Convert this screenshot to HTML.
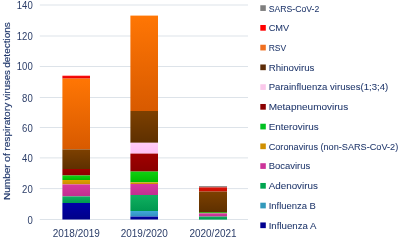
<!DOCTYPE html>
<html lang="en"><head><meta charset="utf-8"><title>Respiratory virus detections</title>
<style>html,body{margin:0;padding:0;background:#fff}body{width:400px;height:242px;overflow:hidden}svg{display:block;filter:blur(.35px)}text{font-family:"Liberation Sans", sans-serif;fill:#21386c}.lg{stroke:#21386c;stroke-width:.06px}.ti{stroke:#21386c;stroke-width:.15px}.ax{fill:#2b3d68}</style></head><body>
<svg width="400" height="242" viewBox="0 0 400 242">
<defs>
<linearGradient id="g-sars" x1="0" y1="0" x2="0" y2="1"><stop offset="0" stop-color="#807470"/><stop offset="1" stop-color="#807470"/></linearGradient>
<linearGradient id="g-cmv" x1="0" y1="0" x2="0" y2="1"><stop offset="0" stop-color="#ff1010"/><stop offset="1" stop-color="#e00000"/></linearGradient>
<linearGradient id="g-rsv" x1="0" y1="0" x2="0" y2="1"><stop offset="0" stop-color="#ff7604"/><stop offset="1" stop-color="#d85a00"/></linearGradient>
<linearGradient id="g-rhino" x1="0" y1="0" x2="0" y2="1"><stop offset="0" stop-color="#7d4000"/><stop offset="1" stop-color="#5e3000"/></linearGradient>
<linearGradient id="g-para" x1="0" y1="0" x2="0" y2="1"><stop offset="0" stop-color="#ffccf8"/><stop offset="1" stop-color="#ffc0f2"/></linearGradient>
<linearGradient id="g-meta" x1="0" y1="0" x2="0" y2="1"><stop offset="0" stop-color="#a00000"/><stop offset="1" stop-color="#8a0000"/></linearGradient>
<linearGradient id="g-entero" x1="0" y1="0" x2="0" y2="1"><stop offset="0" stop-color="#10d010"/><stop offset="1" stop-color="#00b800"/></linearGradient>
<linearGradient id="g-corona" x1="0" y1="0" x2="0" y2="1"><stop offset="0" stop-color="#e0a000"/><stop offset="1" stop-color="#c88c00"/></linearGradient>
<linearGradient id="g-boca" x1="0" y1="0" x2="0" y2="1"><stop offset="0" stop-color="#d838a0"/><stop offset="1" stop-color="#c03090"/></linearGradient>
<linearGradient id="g-adeno" x1="0" y1="0" x2="0" y2="1"><stop offset="0" stop-color="#10b060"/><stop offset="1" stop-color="#009850"/></linearGradient>
<linearGradient id="g-flub" x1="0" y1="0" x2="0" y2="1"><stop offset="0" stop-color="#40a8d8"/><stop offset="1" stop-color="#3090c0"/></linearGradient>
<linearGradient id="g-flua" x1="0" y1="0" x2="0" y2="1"><stop offset="0" stop-color="#0000a8"/><stop offset="1" stop-color="#000088"/></linearGradient>
<linearGradient id="g-cmv3" x1="0" y1="0" x2="0" y2="1"><stop offset="0" stop-color="#e01008"/><stop offset="1" stop-color="#c41000"/></linearGradient>
<linearGradient id="g-entero3" x1="0" y1="0" x2="0" y2="1"><stop offset="0" stop-color="#48a820"/><stop offset="1" stop-color="#48a820"/></linearGradient>
</defs>
<rect width="400" height="242" fill="#fff"/>
<line x1="39.8" x2="248" y1="219.50" y2="219.50" stroke="#dde3e9" stroke-width="1"/>
<line x1="39.8" x2="248" y1="188.60" y2="188.60" stroke="#dde3e9" stroke-width="1"/>
<line x1="39.8" x2="248" y1="157.90" y2="157.90" stroke="#dde3e9" stroke-width="1"/>
<line x1="39.8" x2="248" y1="127.50" y2="127.50" stroke="#dde3e9" stroke-width="1"/>
<line x1="39.8" x2="248" y1="97.50" y2="97.50" stroke="#dde3e9" stroke-width="1"/>
<line x1="39.8" x2="248" y1="66.50" y2="66.50" stroke="#dde3e9" stroke-width="1"/>
<line x1="39.8" x2="248" y1="36.00" y2="36.00" stroke="#dde3e9" stroke-width="1"/>
<line x1="39.8" x2="248" y1="5.00" y2="5.00" stroke="#dde3e9" stroke-width="1"/>
<text class="ax" x="32.7" y="224" text-anchor="end" font-size="10" textLength="5.3" lengthAdjust="spacingAndGlyphs">0</text>
<text class="ax" x="32.7" y="193" text-anchor="end" font-size="10" textLength="10.6" lengthAdjust="spacingAndGlyphs">20</text>
<text class="ax" x="32.7" y="162" text-anchor="end" font-size="10" textLength="10.6" lengthAdjust="spacingAndGlyphs">40</text>
<text class="ax" x="32.7" y="132" text-anchor="end" font-size="10" textLength="10.6" lengthAdjust="spacingAndGlyphs">60</text>
<text class="ax" x="32.7" y="102" text-anchor="end" font-size="10" textLength="10.6" lengthAdjust="spacingAndGlyphs">80</text>
<text class="ax" x="32.7" y="70" text-anchor="end" font-size="10" textLength="15.9" lengthAdjust="spacingAndGlyphs">100</text>
<text class="ax" x="32.7" y="40" text-anchor="end" font-size="10" textLength="15.9" lengthAdjust="spacingAndGlyphs">120</text>
<text class="ax" x="32.7" y="9" text-anchor="end" font-size="10" textLength="15.9" lengthAdjust="spacingAndGlyphs">140</text>
<rect x="62.40" y="75.70" width="27.60" height="2.90" fill="url(#g-cmv)"/>
<rect x="62.40" y="78.60" width="27.60" height="70.80" fill="url(#g-rsv)"/>
<rect x="62.40" y="149.40" width="27.60" height="19.60" fill="url(#g-rhino)"/>
<rect x="62.40" y="169.00" width="27.60" height="6.50" fill="url(#g-meta)"/>
<rect x="62.40" y="175.50" width="27.60" height="4.50" fill="url(#g-entero)"/>
<rect x="62.40" y="180.00" width="27.60" height="4.40" fill="url(#g-corona)"/>
<rect x="62.40" y="184.40" width="27.60" height="12.00" fill="url(#g-boca)"/>
<rect x="62.40" y="196.40" width="27.60" height="6.60" fill="url(#g-adeno)"/>
<rect x="62.40" y="203.00" width="27.60" height="16.50" fill="url(#g-flua)"/>
<rect x="130.40" y="15.60" width="27.60" height="95.40" fill="url(#g-rsv)"/>
<rect x="130.40" y="111.00" width="27.60" height="31.80" fill="url(#g-rhino)"/>
<rect x="130.40" y="142.80" width="27.60" height="10.80" fill="url(#g-para)"/>
<rect x="130.40" y="153.60" width="27.60" height="18.00" fill="url(#g-meta)"/>
<rect x="130.40" y="171.60" width="27.60" height="10.80" fill="url(#g-entero)"/>
<rect x="130.40" y="182.40" width="27.60" height="1.60" fill="url(#g-corona)"/>
<rect x="130.40" y="184.00" width="27.60" height="11.00" fill="url(#g-boca)"/>
<rect x="130.40" y="195.00" width="27.60" height="16.00" fill="url(#g-adeno)"/>
<rect x="130.40" y="211.00" width="27.60" height="5.60" fill="url(#g-flub)"/>
<rect x="130.40" y="216.60" width="27.60" height="2.90" fill="url(#g-flua)"/>
<rect x="199.00" y="186.20" width="28.00" height="1.20" fill="url(#g-sars)"/>
<rect x="199.00" y="187.40" width="28.00" height="4.20" fill="url(#g-cmv3)"/>
<rect x="199.00" y="191.60" width="28.00" height="20.40" fill="url(#g-rhino)"/>
<rect x="199.00" y="212.00" width="28.00" height="1.40" fill="url(#g-entero3)"/>
<rect x="199.00" y="213.40" width="28.00" height="3.20" fill="url(#g-boca)"/>
<rect x="199.00" y="216.60" width="28.00" height="3.00" fill="url(#g-adeno)"/>
<text class="ax" x="76.3" y="237.3" text-anchor="middle" font-size="10.1" textLength="47.2" lengthAdjust="spacingAndGlyphs">2018/2019</text>
<text class="ax" x="144.3" y="237.3" text-anchor="middle" font-size="10.1" textLength="47.2" lengthAdjust="spacingAndGlyphs">2019/2020</text>
<text class="ax" x="213.0" y="237.3" text-anchor="middle" font-size="10.1" textLength="47.2" lengthAdjust="spacingAndGlyphs">2020/2021</text>
<text class="ti" transform="translate(10.1,200) rotate(-90)" font-size="9.6"><tspan x="0.00" textLength="35.65" lengthAdjust="spacingAndGlyphs">Number</tspan> <tspan x="38.06" textLength="8.89" lengthAdjust="spacingAndGlyphs">of</tspan> <tspan x="49.36" textLength="47.84" lengthAdjust="spacingAndGlyphs">respiratory</tspan> <tspan x="99.60" textLength="30.26" lengthAdjust="spacingAndGlyphs">viruses</tspan> <tspan x="132.27" textLength="45.50" lengthAdjust="spacingAndGlyphs">detections</tspan></text>
<rect x="260.3" y="5.25" width="5.5" height="5.7" fill="#7f7f7f"/>
<text class="lg" x="268.7" y="11.50" font-size="9.5" textLength="50.5" lengthAdjust="spacingAndGlyphs">SARS-CoV-2</text>
<rect x="260.3" y="24.99" width="5.5" height="5.7" fill="#ff0000"/>
<text class="lg" x="268.7" y="31.24" font-size="9.5" textLength="20.5" lengthAdjust="spacingAndGlyphs">CMV</text>
<rect x="260.3" y="44.74" width="5.5" height="5.7" fill="#f07020"/>
<text class="lg" x="268.7" y="50.99" font-size="9.5" textLength="17.5" lengthAdjust="spacingAndGlyphs">RSV</text>
<rect x="260.3" y="64.48" width="5.5" height="5.7" fill="#5c2c08"/>
<text class="lg" x="268.7" y="70.73" font-size="9.5" textLength="45.7" lengthAdjust="spacingAndGlyphs">Rhinovirus</text>
<rect x="260.3" y="84.23" width="5.5" height="5.7" fill="#fac8ea"/>
<text class="lg" x="268.7" y="90.48" font-size="9.5" textLength="119.5" lengthAdjust="spacingAndGlyphs">Parainfluenza viruses(1;3;4)</text>
<rect x="260.3" y="103.98" width="5.5" height="5.7" fill="#8b0000"/>
<text class="lg" x="268.7" y="110.23" font-size="9.5" textLength="79.5" lengthAdjust="spacingAndGlyphs">Metapneumovirus</text>
<rect x="260.3" y="123.72" width="5.5" height="5.7" fill="#00c020"/>
<text class="lg" x="268.7" y="129.97" font-size="9.5" textLength="50.0" lengthAdjust="spacingAndGlyphs">Enterovirus</text>
<rect x="260.3" y="143.47" width="5.5" height="5.7" fill="#d09000"/>
<text class="lg" x="268.7" y="149.72" font-size="9.5" textLength="129.5" lengthAdjust="spacingAndGlyphs">Coronavirus (non-SARS-CoV-2)</text>
<rect x="260.3" y="163.21" width="5.5" height="5.7" fill="#cc3399"/>
<text class="lg" x="268.7" y="169.46" font-size="9.5" textLength="41.6" lengthAdjust="spacingAndGlyphs">Bocavirus</text>
<rect x="260.3" y="182.96" width="5.5" height="5.7" fill="#00a550"/>
<text class="lg" x="268.7" y="189.21" font-size="9.5" textLength="49.2" lengthAdjust="spacingAndGlyphs">Adenovirus</text>
<rect x="260.3" y="202.70" width="5.5" height="5.7" fill="#3399bb"/>
<text class="lg" x="268.7" y="208.95" font-size="9.5" textLength="47.2" lengthAdjust="spacingAndGlyphs">Influenza B</text>
<rect x="260.3" y="222.45" width="5.5" height="5.7" fill="#000090"/>
<text class="lg" x="268.7" y="228.70" font-size="9.5" textLength="47.8" lengthAdjust="spacingAndGlyphs">Influenza A</text>
</svg></body></html>
